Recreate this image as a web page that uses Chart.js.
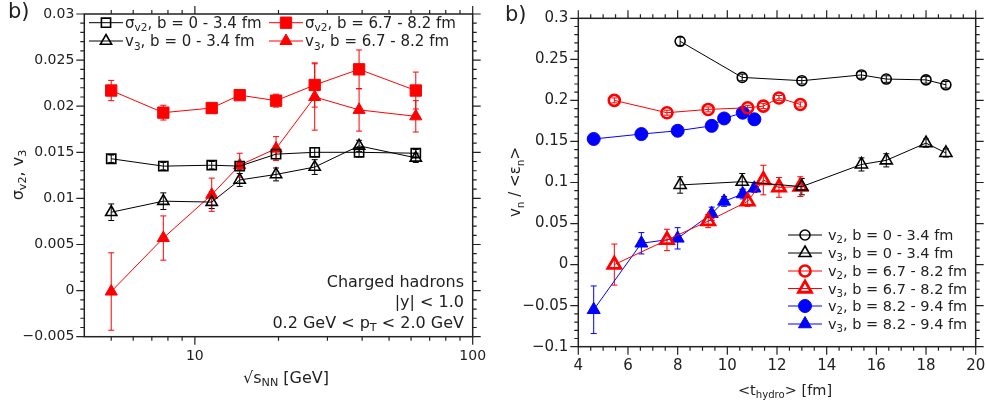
<!DOCTYPE html>
<html lang="en">
<head>
    <meta charset="UTF-8">
    <title>Flow fluctuations vs energy and hydro time</title>
    <style>
        body {
            margin: 0;
            background: #fff;
        }
        .wrap {
            position: relative;
            width: 986px;
            height: 407px;
        }
        #left { position: absolute; left: 0; top: 0; }
        #right { position: absolute; left: 493px; top: 0; }
    </style>
    <script src="https://cdn.jsdelivr.net/npm/chart.js"></script>
</head>
<body>
    <div class="wrap">
        <canvas id="left" width="493" height="407"></canvas>
        <canvas id="right" width="493" height="407"></canvas>
    </div>

    <script>
        // ---- left panel: sigma_v2 and v3 vs sqrt(s_NN) ----
        const sqrtS = [5, 7.7, 11.5, 14.5, 19.6, 27, 39, 62.4];
        const sigV2Central = [0.0143, 0.0135, 0.0136, 0.0135, 0.0148, 0.0150, 0.0150, 0.0149];
        const sigV2CentralErr = [0.0004, 0.0004, 0.0004, 0.0004, 0.0005, 0.0005, 0.0005, 0.0004];
        const v3Central = [0.0085, 0.0097, 0.0096, 0.0120, 0.0126, 0.0134, 0.0157, 0.0144];
        const v3CentralErr = [0.0009, 0.0009, 0.0007, 0.0007, 0.0007, 0.0008, 0.0006, 0.0005];
        const sigV2Mid = [0.0217, 0.0193, 0.0198, 0.0212, 0.0206, 0.0223, 0.0240, 0.0217];
        const sigV2MidErr = [0.0011, 0.0008, 0.0005, 0.0003, 0.0007, 0.0024, 0.0021, 0.0020];
        const v3Mid = [-0.0001, 0.0057, 0.0104, 0.0136, 0.0154, 0.0210, 0.0196, 0.0189];
        const v3MidErr = [0.0042, 0.0024, 0.0018, 0.0013, 0.0013, 0.0036, 0.0023, 0.0017];
        const leftLabels = ['σ_{v2}, b = 0 - 3.4 fm', 'v_{3}, b = 0 - 3.4 fm',
                            'σ_{v2}, b = 6.7 - 8.2 fm', 'v_{3}, b = 6.7 - 8.2 fm'];
        const leftXTicks = [10, 100];
        const leftYTicks = [-0.005, 0, 0.005, 0.01, 0.015, 0.02, 0.025, 0.03];

        // ---- right panel: v_n/<eps_n> vs <t_hydro> ----
        const tCentral = [8.1, 10.6, 13.0, 15.4, 16.4, 18.0, 18.8];
        const v2Central = [0.272, 0.228, 0.224, 0.231, 0.226, 0.225, 0.219];
        const v2CentralErr = [0.005, 0.004, 0.004, 0.004, 0.004, 0.004, 0.004];
        const v3CentralR = [0.097, 0.101, 0.095, 0.122, 0.127, 0.148, 0.136];
        const v3CentralRErr = [0.010, 0.010, 0.010, 0.008, 0.008, 0.005, 0.005];
        const tMid = [5.45, 7.57, 9.23, 10.82, 11.45, 12.08, 12.94];
        const v2Mid = [0.200, 0.185, 0.189, 0.191, 0.193, 0.203, 0.195];
        const v2MidErr = [0.003, 0.003, 0.003, 0.003, 0.003, 0.003, 0.003];
        const v3MidR = [0.000, 0.030, 0.053, 0.077, 0.103, 0.094, 0.095];
        const v3MidRErr = [0.025, 0.013, 0.008, 0.006, 0.018, 0.012, 0.012];
        const tPeriph = [4.62, 6.54, 8.0, 9.37, 9.87, 10.62, 11.09];
        const v2Periph = [0.153, 0.159, 0.163, 0.169, 0.178, 0.185, 0.177];
        const v2PeriphErr = [0.002, 0.002, 0.002, 0.002, 0.002, 0.002, 0.002];
        const v3Periph = [-0.055, 0.026, 0.032, 0.062, 0.077, 0.086, 0.093];
        const v3PeriphErr = [0.029, 0.013, 0.013, 0.008, 0.006, 0.006, 0.005];
        const rightLabels = ['v_{2}, b = 0 - 3.4 fm', 'v_{3}, b = 0 - 3.4 fm',
                             'v_{2}, b = 6.7 - 8.2 fm', 'v_{3}, b = 6.7 - 8.2 fm',
                             'v_{2}, b = 8.2 - 9.4 fm', 'v_{3}, b = 8.2 - 9.4 fm'];
        const rightXTicks = [4, 6, 8, 10, 12, 14, 16, 18, 20];
        const rightYTicks = [-0.1, -0.05, 0, 0.05, 0.1, 0.15, 0.2, 0.25, 0.3];

        const FONT = '"DejaVu Sans", sans-serif';
        const RED = '#ff0000', BLUE = '#0000ff', BLACK = '#000000';

        function range(a, b, step) {
            const out = [];
            for (let v = a; v <= b + step / 2; v += step) out.push(+v.toFixed(6));
            return out;
        }
        function fmt(v) {
            return String(parseFloat(Number(v).toFixed(4))).replace('-', '\u2212');
        }

        // split "σ_{v2}, ..." into normal / subscript pieces
        function parse(str) {
            const parts = [];
            const re = /_\{([^}]*)\}/g;
            let last = 0, m;
            while ((m = re.exec(str))) {
                if (m.index > last) parts.push({ t: str.slice(last, m.index) });
                parts.push({ t: m[1], sub: true });
                last = re.lastIndex;
            }
            if (last < str.length) parts.push({ t: str.slice(last) });
            return parts;
        }
        function drawRich(ctx, str, x, y, size, align) {
            const parts = parse(str);
            let w = 0;
            parts.forEach(p => {
                ctx.font = (p.sub ? size * 0.7 : size) + 'px ' + FONT;
                w += ctx.measureText(p.t).width;
            });
            let cx = align === 'center' ? x - w / 2 : align === 'right' ? x - w : x;
            ctx.textAlign = 'left';
            ctx.textBaseline = 'alphabetic';
            parts.forEach(p => {
                ctx.font = (p.sub ? size * 0.7 : size) + 'px ' + FONT;
                ctx.fillText(p.t, cx, y + (p.sub ? size * 0.22 : 0));
                cx += ctx.measureText(p.t).width;
            });
        }

        function series(xs, ys, errs, color, style, radius, filled, bw) {
            return {
                data: xs.map((x, i) => ({ x: x, y: ys[i] })),
                errors: errs,
                showLine: true,
                borderColor: color,
                borderWidth: 1,
                pointStyle: style,
                pointRadius: radius,
                pointBorderColor: color,
                pointBackgroundColor: filled ? color : 'rgba(0,0,0,0)',
                pointBorderWidth: bw
            };
        }

        // vertical error bars with small caps
        const errorBars = {
            id: 'errorBars',
            beforeDatasetsDraw(chart) {
                const { ctx, scales: { x, y } } = chart;
                ctx.save();
                ctx.lineWidth = 1;
                chart.data.datasets.forEach(ds => {
                    ctx.strokeStyle = ds.borderColor;
                    ds.data.forEach((p, i) => {
                        const e = ds.errors[i];
                        const px = x.getPixelForValue(p.x);
                        const y1 = y.getPixelForValue(p.y - e);
                        const y2 = y.getPixelForValue(p.y + e);
                        ctx.beginPath();
                        ctx.moveTo(px, y1); ctx.lineTo(px, y2);
                        ctx.moveTo(px - 3, y1); ctx.lineTo(px + 3, y1);
                        ctx.moveTo(px - 3, y2); ctx.lineTo(px + 3, y2);
                        ctx.stroke();
                    });
                });
                ctx.restore();
            }
        };

        // box with outward ticks on all four sides
        const frame = {
            id: 'frame',
            afterDraw(chart, args, o) {
                const { ctx, chartArea: a, scales: { x, y } } = chart;
                ctx.save();
                ctx.strokeStyle = '#222';
                ctx.lineWidth = 1.5;
                ctx.strokeRect(a.left, a.top, a.right - a.left, a.bottom - a.top);
                ctx.lineWidth = 1.2;
                ctx.beginPath();
                const xt = (vals, len) => vals.forEach(v => {
                    const p = x.getPixelForValue(v);
                    ctx.moveTo(p, a.bottom); ctx.lineTo(p, a.bottom + len);
                    ctx.moveTo(p, a.top); ctx.lineTo(p, a.top - len);
                });
                const yt = (vals, len) => vals.forEach(v => {
                    const p = y.getPixelForValue(v);
                    ctx.moveTo(a.left, p); ctx.lineTo(a.left - len, p);
                    ctx.moveTo(a.right, p); ctx.lineTo(a.right + len, p);
                });
                xt(o.xMinor, 4); xt(o.xMajor, 8);
                yt(o.yMinor, 4); yt(o.yMajor, 8);
                ctx.stroke();
                ctx.restore();
            }
        };

        // titles, annotations and the legend (with subscripts)
        const texts = {
            id: 'texts',
            afterDraw(chart, args, o) {
                const ctx = chart.ctx;
                ctx.save();
                ctx.fillStyle = '#222';
                o.items.forEach(it => {
                    if (it.rotate) {
                        ctx.save();
                        ctx.translate(it.x, it.y);
                        ctx.rotate(-Math.PI / 2);
                        drawRich(ctx, it.text, 0, it.size * 0.35, it.size, 'center');
                        ctx.restore();
                    } else {
                        drawRich(ctx, it.text, it.x, it.y + it.size * 0.35, it.size, it.align || 'left');
                    }
                });
                const lg = o.legend;
                lg.pos.forEach((pos, i) => {
                    const ds = chart.data.datasets[i];
                    ctx.strokeStyle = ds.borderColor;
                    ctx.lineWidth = 1;
                    ctx.beginPath();
                    ctx.moveTo(pos[0] - lg.half, pos[1]);
                    ctx.lineTo(pos[0] + lg.half, pos[1]);
                    ctx.stroke();
                    ctx.fillStyle = ds.pointBackgroundColor;
                    ctx.lineWidth = ds.pointBorderWidth;
                    Chart.helpers.drawPoint(ctx, {
                        pointStyle: ds.pointStyle, radius: ds.pointRadius,
                        rotation: 0, borderWidth: ds.pointBorderWidth
                    }, pos[0], pos[1]);
                    ctx.fillStyle = '#222';
                    drawRich(ctx, lg.labels[i], pos[0] + lg.half + lg.gap, pos[1] + lg.size * 0.35, lg.size, 'left');
                });
                ctx.restore();
            }
        };

        function tickFont(size) {
            return { family: FONT, size: size };
        }
        // keep the plot box where it is, whatever the label overhang
        function noPad(s) {
            s.paddingLeft = 0; s.paddingRight = 0;
            s.paddingTop = 0; s.paddingBottom = 0;
        }

        new Chart(document.getElementById('left'), {
            type: 'scatter',
            data: {
                datasets: [
                    series(sqrtS, sigV2Central, sigV2CentralErr, BLACK, 'rect', 6.5, false, 1.6),
                    series(sqrtS, v3Central, v3CentralErr, BLACK, 'triangle', 6.5, false, 1.6),
                    series(sqrtS, sigV2Mid, sigV2MidErr, RED, 'rect', 8, true, 1),
                    series(sqrtS, v3Mid, v3MidErr, RED, 'triangle', 7, true, 1)
                ]
            },
            options: {
                responsive: false,
                animation: false,
                layout: { padding: { top: 14, right: 20.3, left: 0, bottom: 0 } },
                plugins: {
                    legend: { display: false },
                    tooltip: { enabled: false },
                    frame: {
                        xMajor: leftXTicks,
                        xMinor: [5, 6, 7, 8, 9, 20, 30, 40, 50, 60, 70, 80, 90],
                        yMajor: leftYTicks,
                        yMinor: range(-0.005, 0.03, 0.001)
                    },
                    texts: {
                        items: [
                            { text: 'b)', x: 8, y: 11, size: 21 },
                            { text: 'σ_{v2}, v_{3}', x: 17, y: 175, size: 16, rotate: true },
                            { text: '√s_{NN} [GeV]', x: 286, y: 377, size: 16, align: 'center' },
                            { text: 'Charged hadrons', x: 464, y: 281, size: 16, align: 'right' },
                            { text: '|y| < 1.0', x: 464, y: 301.5, size: 16, align: 'right' },
                            { text: '0.2 GeV < p_{T} < 2.0 GeV', x: 464, y: 322, size: 16, align: 'right' }
                        ],
                        legend: {
                            labels: leftLabels,
                            pos: [[106, 22.7], [106, 41], [286, 22.7], [286, 41]],
                            half: 17,
                            gap: 2,
                            size: 15
                        }
                    }
                },
                scales: {
                    x: {
                        type: 'logarithmic', min: 4, max: 100,
                        grid: { display: false, drawTicks: false },
                        border: { display: false },
                        afterBuildTicks: s => { s.ticks = leftXTicks.map(v => ({ value: v })); },
                        afterFit: s => { s.height = 70.3; noPad(s); },
                        ticks: { padding: 11, color: '#222', font: tickFont(14), maxRotation: 0, callback: v => fmt(v) }
                    },
                    y: {
                        min: -0.005, max: 0.03,
                        grid: { display: false, drawTicks: false },
                        border: { display: false },
                        afterBuildTicks: s => { s.ticks = leftYTicks.map(v => ({ value: v })); },
                        afterFit: s => { s.width = 84.3; noPad(s); },
                        ticks: { padding: 10, color: '#222', font: tickFont(14), callback: v => fmt(v) }
                    }
                }
            },
            plugins: [errorBars, frame, texts]
        });

        new Chart(document.getElementById('right'), {
            type: 'scatter',
            data: {
                datasets: [
                    series(tCentral, v2Central, v2CentralErr, BLACK, 'circle', 5, false, 1.6),
                    series(tCentral, v3CentralR, v3CentralRErr, BLACK, 'triangle', 7, false, 1.6),
                    series(tMid, v2Mid, v2MidErr, RED, 'circle', 5.5, false, 2.6),
                    series(tMid, v3MidR, v3MidRErr, RED, 'triangle', 7.5, false, 2.8),
                    series(tPeriph, v2Periph, v2PeriphErr, BLUE, 'circle', 6.5, true, 1),
                    series(tPeriph, v3Periph, v3PeriphErr, BLUE, 'triangle', 7.5, true, 1)
                ]
            },
            options: {
                responsive: false,
                animation: false,
                layout: { padding: { top: 18.3, right: 9, left: 0, bottom: 0 } },
                plugins: {
                    legend: { display: false },
                    tooltip: { enabled: false },
                    frame: {
                        xMajor: rightXTicks,
                        xMinor: range(4, 20, 0.5),
                        yMajor: rightYTicks,
                        yMinor: range(-0.1, 0.3, 0.01)
                    },
                    texts: {
                        items: [
                            { text: 'b)', x: 12, y: 14, size: 21 },
                            { text: 'v_{n} / <ε_{n}>', x: 22, y: 182, size: 15, rotate: true },
                            { text: '<t_{hydro}> [fm]', x: 292, y: 390, size: 14.5, align: 'center' }
                        ],
                        legend: {
                            labels: rightLabels,
                            pos: [[312, 235], [312, 253], [312, 271], [312, 288.5], [312, 306], [312, 324]],
                            half: 17,
                            gap: 6,
                            size: 14.5
                        }
                    }
                },
                scales: {
                    x: {
                        min: 4, max: 20,
                        grid: { display: false, drawTicks: false },
                        border: { display: false },
                        afterBuildTicks: s => { s.ticks = rightXTicks.map(v => ({ value: v })); },
                        afterFit: s => { s.height = 60.3; noPad(s); },
                        ticks: { padding: 10, color: '#222', font: tickFont(15), maxRotation: 0, callback: v => fmt(v) }
                    },
                    y: {
                        min: -0.1, max: 0.3,
                        grid: { display: false, drawTicks: false },
                        border: { display: false },
                        afterBuildTicks: s => { s.ticks = rightYTicks.map(v => ({ value: v })); },
                        afterFit: s => { s.width = 85.3; noPad(s); },
                        ticks: { padding: 10, color: '#222', font: tickFont(15), callback: v => fmt(v) }
                    }
                }
            },
            plugins: [errorBars, frame, texts]
        });
    </script>
</body>
</html>
